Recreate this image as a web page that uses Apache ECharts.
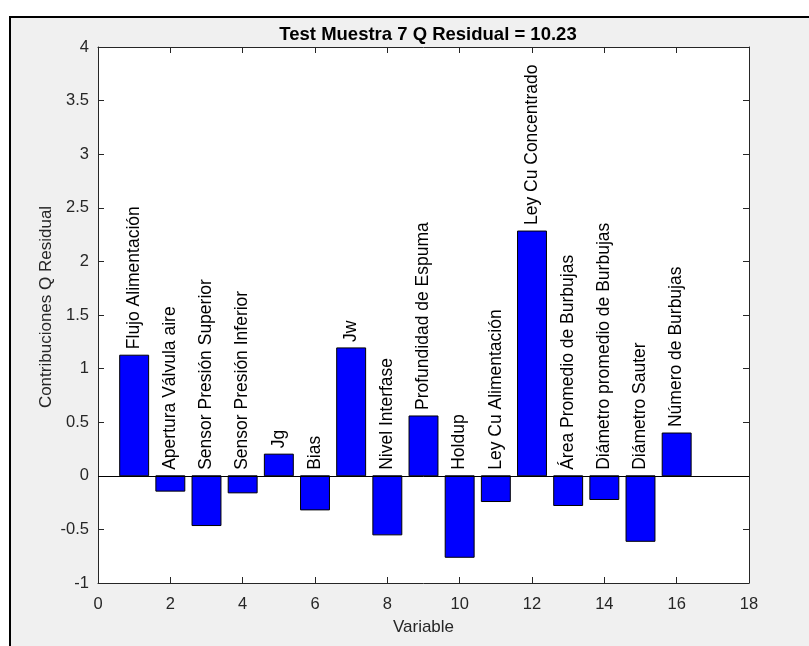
<!DOCTYPE html>
<html>
<head>
<meta charset="utf-8">
<script src="https://cdn.jsdelivr.net/npm/echarts@6/dist/echarts.min.js"></script>
<style>
  html, body { margin: 0; padding: 0; background: #ffffff; }
  #chart { width: 809px; height: 646px; }
</style>
</head>
<body>
<div id="chart"></div>
<script>
// Variable index of each process variable (x positions of the bars)
const variableIndex = [1, 2, 3, 4, 5, 6, 7, 8, 9, 10, 11, 12, 13, 14, 15, 16];

// Name of each variable, written above its bar
const variableNames = [
  'Flujo Alimentación',
  'Apertura Válvula aire',
  'Sensor Presión Superior',
  'Sensor Presión Inferior',
  'Jg',
  'Bias',
  'Jw',
  'Nivel Interfase',
  'Profundidad de Espuma',
  'Holdup',
  'Ley Cu Alimentación',
  'Ley Cu Concentrado',
  'Área Promedio de Burbujas',
  'Diámetro promedio de Burbujas',
  'Diámetro Sauter',
  'Número de Burbujas'
];

// Contribution of each variable to the Q residual
const qContributions = [
  1.125, -0.143, -0.464, -0.159, 0.202, -0.318, 1.193, -0.551,
  0.558, -0.760, -0.240, 2.283, -0.277, -0.221, -0.611, 0.399
];

// Axis ranges and tick spacing
const xRange = [0, 18];
const xStep = 2;
const yRange = [-1, 4];
const yStep = 0.5;

const FONT = "'Liberation Sans', Arial, Helvetica, sans-serif";
const AXIS_COLOR = '#262626';
const BAR_WIDTH = 0.8; // in x-axis units

const seriesData = variableIndex.map((x, i) => [x, qContributions[i], i]);

const chart = echarts.init(document.getElementById('chart'), null, { renderer: 'canvas' });

function renderBar(params, api) {
  const x = api.value(0);
  const v = api.value(1);
  const idx = api.value(2);
  const p0 = api.coord([x - BAR_WIDTH / 2, 0]);
  const p1 = api.coord([x + BAR_WIDTH / 2, v]);
  const top = api.coord([x, Math.max(v, 0)]);
  return {
    type: 'group',
    children: [
      {
        type: 'rect',
        shape: {
          x: Math.min(p0[0], p1[0]),
          y: Math.min(p0[1], p1[1]),
          width: Math.abs(p1[0] - p0[0]),
          height: Math.abs(p1[1] - p0[1])
        },
        style: { fill: '#0000ff', stroke: '#000000', lineWidth: 1 }
      },
      {
        type: 'text',
        x: top[0],
        y: top[1] - 6,
        rotation: Math.PI / 2,
        style: {
          text: variableNames[idx],
          fill: '#000000',
          font: '17.5px ' + FONT,
          align: 'left',
          verticalAlign: 'middle'
        },
        z2: 10
      }
    ]
  };
}

const plainAxis = (extra) => Object.assign({
  type: 'value',
  axisLine: { show: true, onZero: false, lineStyle: { color: AXIS_COLOR, width: 1 } },
  axisTick: { show: true, inside: true, length: 6, lineStyle: { color: AXIS_COLOR } },
  splitLine: { show: false }
}, extra);

chart.setOption({
  animation: false,
  backgroundColor: '#ffffff',
  graphic: [
    {
      type: 'rect',
      z: -100,
      silent: true,
      shape: { x: 10, y: 17, width: 830, height: 660 },
      style: { fill: '#f0f0f0', stroke: '#000000', lineWidth: 2 }
    }
  ],
  title: {
    text: 'Test Muestra 7 Q Residual = 10.23',
    left: 423,
    top: 20,
    textAlign: 'center',
    textStyle: { fontFamily: FONT, fontSize: 18.5, fontWeight: 'bold', color: '#000000' }
  },
  grid: {
    left: 98, right: 60, top: 47, bottom: 63,
    show: true, backgroundColor: '#ffffff', borderWidth: 0
  },
  xAxis: [
    plainAxis({
      min: xRange[0], max: xRange[1], interval: xStep,
      position: 'bottom',
      name: 'Variable',
      nameLocation: 'middle',
      nameGap: 36,
      nameTextStyle: { fontFamily: FONT, fontSize: 17, color: AXIS_COLOR },
      axisLabel: { fontFamily: FONT, fontSize: 16.5, color: AXIS_COLOR, margin: 13 }
    }),
    plainAxis({
      min: xRange[0], max: xRange[1], interval: xStep,
      position: 'top',
      axisLabel: { show: false }
    })
  ],
  yAxis: [
    plainAxis({
      min: yRange[0], max: yRange[1], interval: yStep,
      position: 'left',
      name: 'Contribuciones Q Residual',
      nameLocation: 'middle',
      nameGap: 43,
      nameMoveOverlap: false,
      nameTextStyle: { fontFamily: FONT, fontSize: 17, color: AXIS_COLOR, padding: [0, 0, 0, 16] },
      axisLabel: { fontFamily: FONT, fontSize: 16.5, color: AXIS_COLOR, margin: 9 }
    }),
    plainAxis({
      min: yRange[0], max: yRange[1], interval: yStep,
      position: 'right',
      axisLabel: { show: false }
    })
  ],
  series: [
    {
      type: 'custom',
      xAxisIndex: 0,
      yAxisIndex: 0,
      data: seriesData,
      renderItem: renderBar,
      clip: false,
      markLine: {
        silent: true,
        symbol: ['none', 'none'],
        label: { show: false },
        lineStyle: { color: '#000000', type: 'solid', width: 1 },
        data: [{ yAxis: 0 }]
      }
    }
  ]
});
</script>
</body>
</html>
